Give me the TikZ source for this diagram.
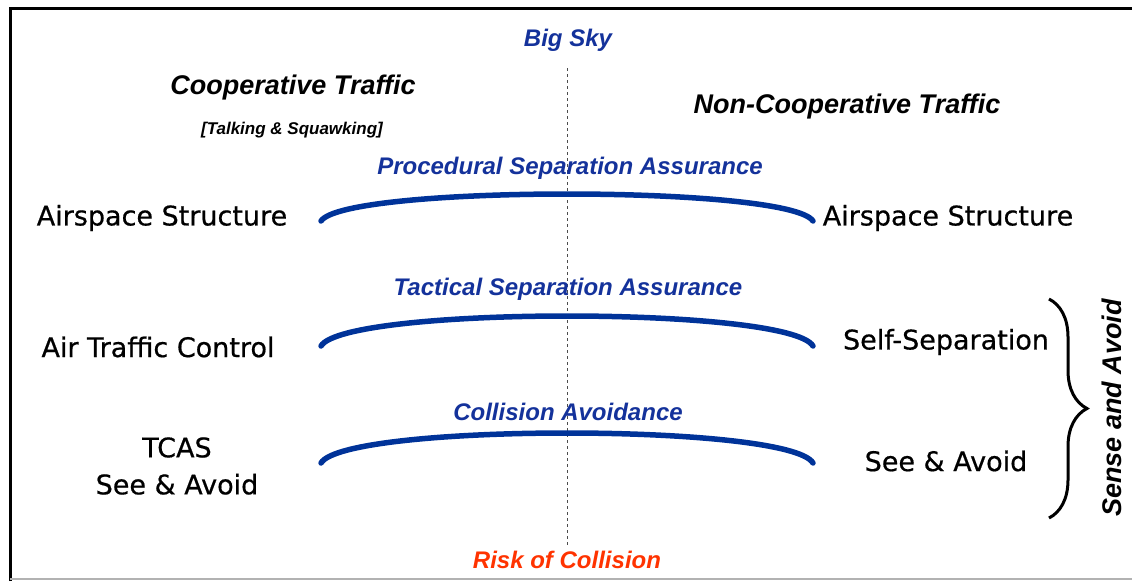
\documentclass[tikz,border=0pt]{standalone}
\usepackage{fontspec}
\setmainfont{Liberation Sans}
\newfontfamily\handfont[FakeBold=0.6]{DejaVu Sans}
\usepackage{tikz}
\usetikzlibrary{decorations.pathreplacing}
\definecolor{skyblue}{RGB}{20,50,155}
\definecolor{bandblue}{RGB}{0,51,153}
\definecolor{riskred}{RGB}{255,51,0}

\begin{document}
\begin{tikzpicture}[x=1pt,y=-1pt,
  bluelab/.style={text=skyblue,font=\bfseries\itshape\fontsize{24}{28}\selectfont},
  headlab/.style={font=\bfseries\itshape\fontsize{27}{32}\selectfont},
  handlab/.style={font=\handfont\fontsize{27}{37}\selectfont,align=center},
  band/.style={draw=bandblue,line width=5.5pt,line cap=round}]
\useasboundingbox (0,0) rectangle (1132,581);
% frame
\draw[line width=3pt] (10,581) -- (10,8) -- (1132,8);
\draw[gray!60,line width=1.5pt] (10,579) -- (1132,579);
% centre line
\coordinate (top) at (567,68);
\coordinate (bot) at (567,545);
\draw[dashed,gray!60!black,line width=0.8pt] (top) -- (bot);
% titles
\node[bluelab] (big) at (568,40) {Big Sky};
\node[headlab] (coop) at (293,88) {Cooperative Traffic};
\node[font=\bfseries\itshape\fontsize{17}{20}\selectfont] (talk) at (292,130) {[Talking \& Squawking]};
\node[headlab] (noncoop) at (847,107) {Non-Cooperative Traffic};
\node[text=riskred,font=\bfseries\itshape\fontsize{24}{28}\selectfont] (risk) at (567,560) {Risk of Collision};
% layers
\node[bluelab] (proc) at (570,168) {Procedural Separation Assurance};
\node[bluelab] (tact) at (568,289) {Tactical Separation Assurance};
\node[bluelab] (coll) at (568,412) {Collision Avoidance};
\foreach \e/\p in {221/194,346/316,463/433}
  \draw[band] (321,\e) .. controls (345,{\p-(\e-\p)/3}) and (789,{\p-(\e-\p)/3}) .. (813,\e);
% left side
\node[handlab] (asl) at (162,218) {Airspace Structure};
\node[handlab] (atc) at (158,347) {Air Traffic Control};
\node[handlab] (tcas) at (177,466) {TCAS\\See \& Avoid};
% right side
\node[handlab] (asr) at (948,218) {Airspace Structure};
\node[handlab] (self) at (946,342) {Self-Separation};
\node[handlab] (sar) at (946,461) {See \& Avoid};
\coordinate (bt) at (1049,299);
\coordinate (bb) at (1049,518);
\draw[line width=3pt,decorate,decoration={brace,amplitude=38pt}] (bt) -- (bb);
\node[headlab,rotate=90] (sense) at (1112,408) {Sense and Avoid};
\end{tikzpicture}
\end{document}
